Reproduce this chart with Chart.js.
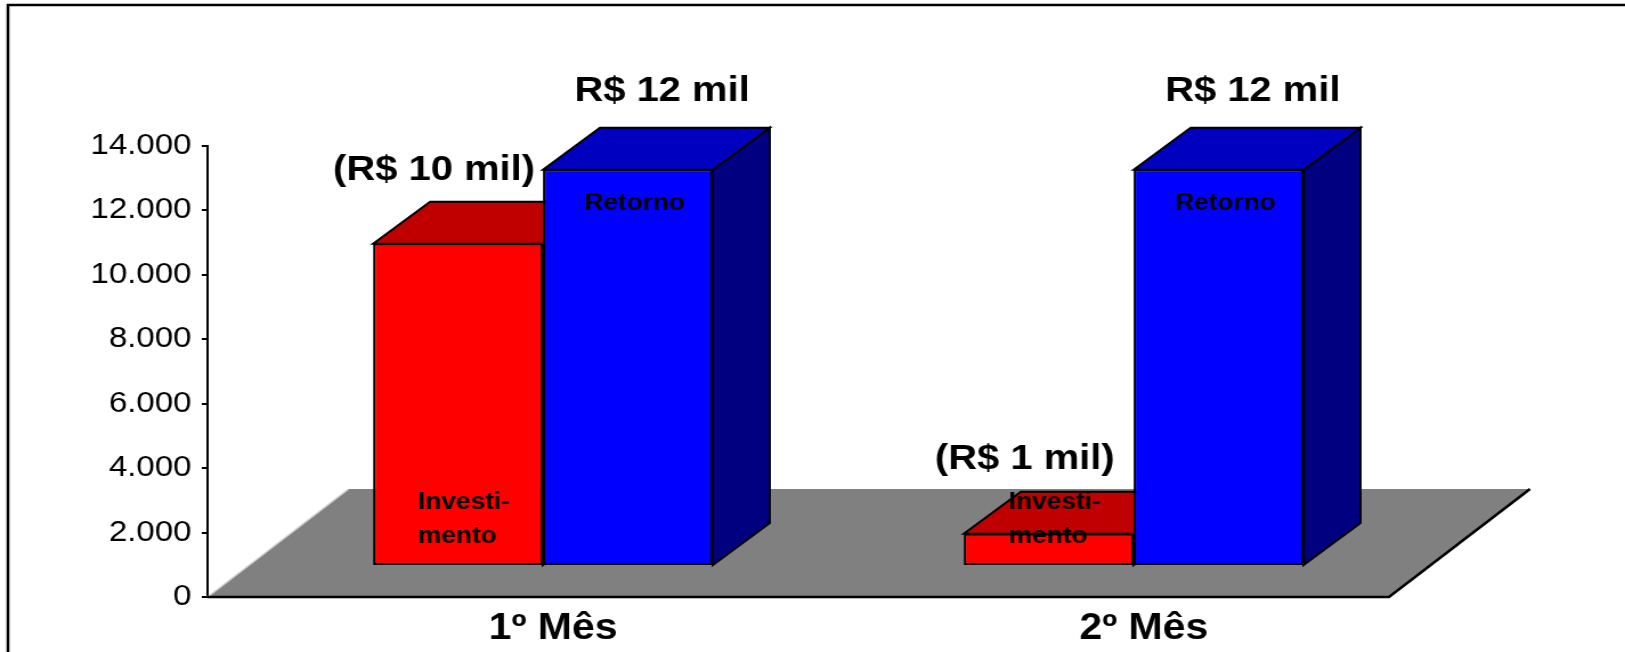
<!DOCTYPE html>
<html>
<head>
<meta charset="utf-8">
<script src="https://cdn.jsdelivr.net/npm/chart.js@4.4.1/dist/chart.umd.min.js"></script>
<style>
  html, body { margin: 0; padding: 0; background: #fff; overflow: hidden; }
  /* the original picture is stretched sideways, so the canvas is too */
  #wrap { width: 1425px; height: 652px; transform: scaleX(1.1404); transform-origin: 0 0; }
</style>
</head>
<body>
<div id="wrap"><canvas id="bar-chart"></canvas></div>
<script>
// Data
const categories = ["1º Mês", "2º Mês"];
const investimento = [10000, 1000];
const retorno = [12300, 12300];
const yTickLabels = ["0", "2.000", "4.000", "6.000", "8.000", "10.000", "12.000", "14.000"];
const investimentoNotes = ["(R$ 10 mil)", "(R$ 1 mil)"];
const retornoNotes = ["R$ 12 mil", "R$ 12 mil"];

// fake 3d look
const SX = 1.1404;
const FLOOR_DX = 141 / SX, FLOOR_DY = 108;
const BAR_DX = 40 / SX, BAR_DY = 31;
const DEPTH_DX = 57 / SX, DEPTH_DY = 42;
const faceColors = [
  { top: "#c00000", side: "#800000" },
  { top: "#0000c0", side: "#000080" },
];

function poly(ctx, pts, fill) {
  ctx.beginPath();
  ctx.moveTo(pts[0][0], pts[0][1]);
  for (let i = 1; i < pts.length; i++) ctx.lineTo(pts[i][0], pts[i][1]);
  ctx.closePath();
  ctx.fillStyle = fill;
  ctx.fill();
  ctx.lineWidth = 2;
  ctx.strokeStyle = "#000";
  ctx.stroke();
}

const fake3d = {
  id: "fake3d",
  beforeDraw(chart) {
    const ctx = chart.ctx;
    ctx.save();
    ctx.lineWidth = 2.5;
    ctx.strokeStyle = "#000";
    ctx.strokeRect(7, 5, chart.width + 50, chart.height + 50);
    ctx.restore();
  },
  beforeDatasetsDraw(chart) {
    const ctx = chart.ctx;
    const a = chart.chartArea;
    // floor
    ctx.save();
    ctx.beginPath();
    ctx.moveTo(a.left, a.bottom);
    ctx.lineTo(a.right, a.bottom);
    ctx.lineTo(a.right + FLOOR_DX, a.bottom - FLOOR_DY);
    ctx.lineTo(a.left + FLOOR_DX, a.bottom - FLOOR_DY);
    ctx.closePath();
    ctx.fillStyle = "#808080";
    ctx.fill();
    ctx.beginPath();
    ctx.moveTo(a.left, a.bottom);
    ctx.lineTo(a.left + FLOOR_DX, a.bottom - FLOOR_DY);
    ctx.strokeStyle = "#d0d0d0";
    ctx.lineWidth = 1.5;
    ctx.stroke();
    ctx.beginPath();
    ctx.moveTo(a.left, a.bottom);
    ctx.lineTo(a.right, a.bottom);
    ctx.lineTo(a.right + FLOOR_DX, a.bottom - FLOOR_DY);
    ctx.strokeStyle = "#000";
    ctx.lineWidth = 2.5;
    ctx.stroke();
    ctx.restore();

    // tops and sides, bars sit a bit back on the floor
    ctx.save();
    ctx.translate(BAR_DX, -BAR_DY);
    chart.data.datasets.forEach((ds, di) => {
      chart.getDatasetMeta(di).data.forEach((bar) => {
        const l = bar.x - bar.width / 2, r = bar.x + bar.width / 2;
        const t = bar.y, b = bar.base;
        poly(ctx, [[r, t], [r + DEPTH_DX, t - DEPTH_DY], [r + DEPTH_DX, b - DEPTH_DY], [r, b]], faceColors[di].side);
        poly(ctx, [[l, t], [l + DEPTH_DX, t - DEPTH_DY], [r + DEPTH_DX, t - DEPTH_DY], [r, t]], faceColors[di].top);
      });
    });
    // stay translated while the fronts are drawn
  },
  afterDatasetsDraw(chart) {
    const ctx = chart.ctx;
    const red = chart.getDatasetMeta(0).data;
    const blue = chart.getDatasetMeta(1).data;
    ctx.fillStyle = "#000";
    ctx.textAlign = "center";
    ctx.textBaseline = "middle";
    ctx.font = "bold 35px 'Liberation Sans'";
    blue.forEach((bar, i) => ctx.fillText(retornoNotes[i], bar.x + DEPTH_DX * 0.6, bar.y - DEPTH_DY - 36));
    red.forEach((bar, i) => ctx.fillText(investimentoNotes[i], bar.x - 21, bar.y - 74));
    ctx.font = "bold 23px 'Liberation Sans'";
    blue.forEach((bar) => ctx.fillText("Retorno", bar.x + 6, bar.y + 34));
    ctx.textAlign = "left";
    red.forEach((bar) => {
      ctx.fillText("Investi-", bar.x - 35, bar.base - 62);
      ctx.fillText("mento", bar.x - 35, bar.base - 28);
    });
    ctx.restore();
  },
};

const barChart = document.getElementById("bar-chart");
const barChartContext = barChart.getContext("2d");

new Chart(barChartContext, {
  type: "bar",
  data: {
    labels: categories,
    datasets: [
      {
        label: "Investimento",
        data: investimento,
        backgroundColor: "#ff0000",
        borderColor: "#000",
        borderWidth: 2,
        borderSkipped: false,
        clip: false,
      },
      {
        label: "Retorno",
        data: retorno,
        backgroundColor: "#0000ff",
        borderColor: "#000",
        borderWidth: 2,
        borderSkipped: false,
        clip: false,
      },
    ],
  },
  options: {
    responsive: true,
    maintainAspectRatio: false,
    animation: false,
    categoryPercentage: 0.575,
    barPercentage: 1,
    layout: { padding: { top: 146, right: 207, bottom: 0, left: 0 } },
    plugins: { legend: { display: false }, tooltip: { enabled: false } },
    scales: {
      x: {
        grid: { display: false, drawTicks: false },
        border: { display: false },
        afterFit: (s) => { s.height = 55; },
        ticks: {
          color: "#000",
          padding: 10,
          labelOffset: 44,
          font: { family: "Liberation Sans", size: 36, weight: "bold" },
        },
      },
      y: {
        min: 0,
        max: 14000,
        afterFit: (s) => { s.width = 182; },
        grid: { drawOnChartArea: false, drawTicks: true, tickLength: 5, color: "#000", lineWidth: 2 },
        border: { display: true, color: "#000", width: 2 },
        ticks: {
          stepSize: 2000,
          color: "#000",
          padding: 9,
          font: { family: "Liberation Sans", size: 29 },
          callback: (v, i) => yTickLabels[i],
        },
      },
    },
  },
  plugins: [fake3d],
});
</script>
</body>
</html>
